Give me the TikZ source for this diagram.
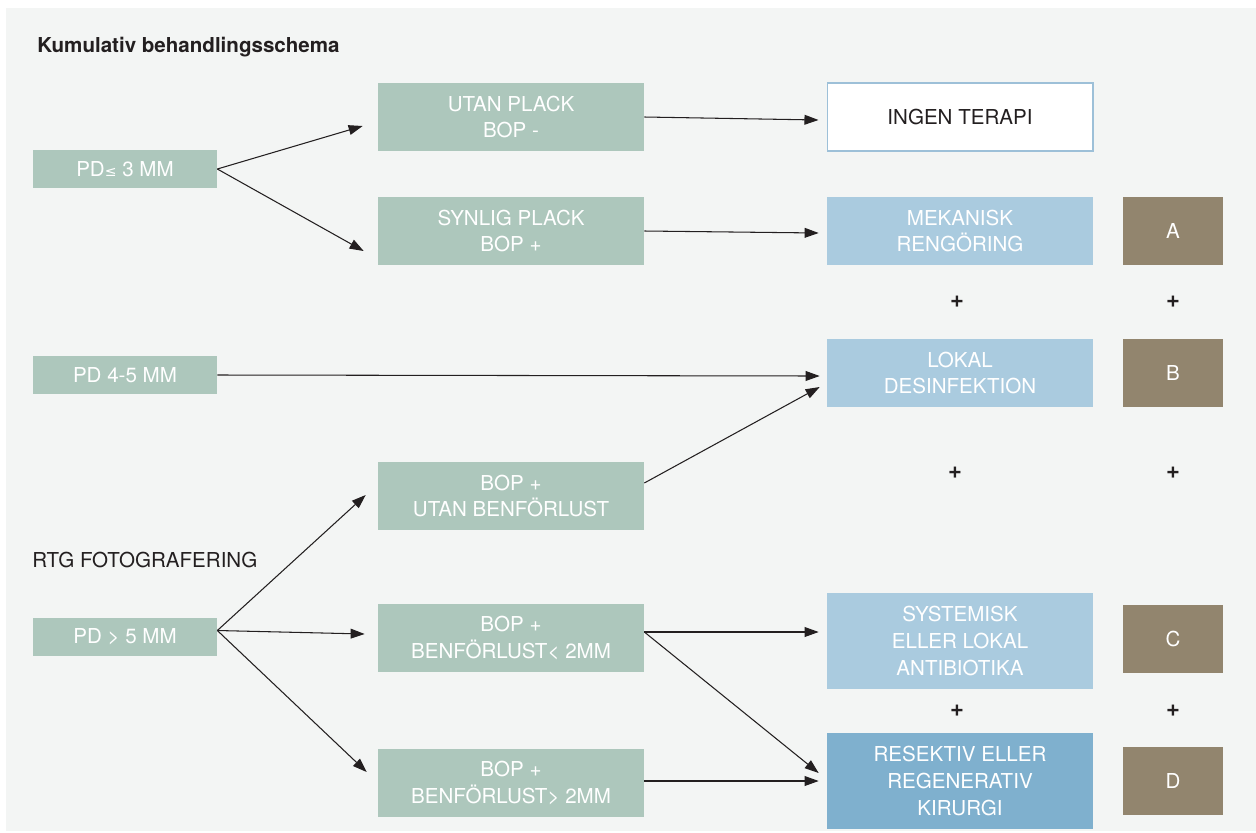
\documentclass[tikz,border=0pt]{standalone}
\usepackage{fontspec}
\setmainfont{TeX Gyre Heros}
\newfontfamily\symfam{DejaVu Sans}
\usepackage{xcolor}
\usepackage{tikz}
\usetikzlibrary{arrows.meta}
\definecolor{bggrey}{HTML}{F3F5F4}
\definecolor{sage}{HTML}{ADC7BC}
\definecolor{paleblue}{HTML}{AACBDF}
\definecolor{midblue}{HTML}{7FB0CE}
\definecolor{taupe}{HTML}{92856E}
\definecolor{rimblue}{HTML}{9DC0D8}
\definecolor{ink}{HTML}{231F20}
\tikzset{
  box/.style={fill=sage,text=white,align=center,inner sep=0pt,font=\fontsize{11.7}{15.2}\selectfont},
  pdbox/.style={box,minimum width=3.68cm,minimum height=0.76cm},
  midbox/.style={box,minimum width=5.32cm,minimum height=1.36cm},
  tbox/.style={midbox,fill=paleblue},
  letterbox/.style={box,fill=taupe,minimum width=2cm,minimum height=1.36cm},
  plussign/.style={text=ink,inner sep=0pt,font=\bfseries\fontsize{13.5}{15}\selectfont},
  arr/.style={->,draw=ink,line width=0.6pt}
}

\begin{document}
\begin{tikzpicture}[x=0.02cm,y=-0.02cm,>={Triangle[length=8pt,width=5.6pt]}]
\useasboundingbox(0,0)rectangle(1256,832);
\fill[bggrey](6,8)rectangle(1256,831);
% headings
\node[anchor=west,inner sep=0pt,text=ink,font=\bfseries\fontsize{11.7}{14}\selectfont](title)at(37,47){Kumulativ behandlingsschema};
\node[anchor=west,inner sep=0pt,text=ink,font=\fontsize{11.7}{14}\selectfont](rtg)at(32,560){RTG FOTOGRAFERING};
% pocket depth
\node[pdbox](pd1)at(125,169){PD{\symfam\fontsize{8}{10}\selectfont ≤} 3 MM};
\node[pdbox](pd2)at(125,375){PD 4-5 MM};
\node[pdbox](pd3)at(125,636.5){PD > 5 MM};
% findings
\node[midbox](utan)at(511,117){UTAN PLACK\\BOP -};
\node[midbox](synlig)at(511,231){SYNLIG PLACK\\BOP +};
\node[midbox](bopu)at(511,496){BOP +\\UTAN BENFÖRLUST};
\node[midbox](benf1)at(511,638){BOP +\\BENFÖRLUST< 2MM};
\node[midbox](benf2)at(511,783){BOP +\\BENFÖRLUST> 2MM};
% therapy
\node[midbox,fill=white,draw=rimblue,line width=0.6pt,text=ink](ingen)at(960,117){INGEN TERAPI};
\node[tbox](mek)at(960,231){MEKANISK\\RENGÖRING};
\node[tbox](lokal)at(960,373){LOKAL\\DESINFEKTION};
\node[tbox,minimum height=1.92cm](syst)at(960,641){SYSTEMISK\\ELLER LOKAL\\ANTIBIOTIKA};
\node[tbox,fill=midblue,minimum height=1.92cm](resek)at(960,781){RESEKTIV ELLER\\REGENERATIV\\KIRURGI};
% protocol steps
\node[letterbox](stepA)at(1173,231){A};
\node[letterbox](stepB)at(1173,373){B};
\node[letterbox](stepC)at(1173,638.5){C};
\node[letterbox](stepD)at(1173,780.5){D};
\foreach \px/\py [count=\i] in {957/302,1173/302,955/473,1173/473,957/711,1173/711}
  \node[plussign](plus\i)at(\px,\py){+};
% arrows
\draw[arr](pd1.east)--([shift={(-15,9)}]utan.west);
\draw[arr](pd1.east)--([shift={(-14,20)}]synlig.west);
\draw[arr](utan.east)--([shift={(-8,3)}]ingen.west);
\draw[arr](synlig.east)--([shift={(-8,2)}]mek.west);
\draw[arr](pd2.east)--([shift={(-7,3)}]lokal.west);
\draw[arr]([shift={(0,-13)}]bopu.east)--([shift={(-7,14)}]lokal.west);
\draw[arr]([shift={(0,-6)}]pd3.east)--([shift={(-12,-1)}]bopu.west);
\draw[arr]([shift={(0,-6)}]pd3.east)--([shift={(-13,-4)}]benf1.west);
\draw[arr]([shift={(0,-6)}]pd3.east)--([shift={(-11,-11)}]benf2.west);
\draw[arr]([shift={(0,-6)}]benf1.east)--([shift={(-8,-9)}]syst.west);
\draw[arr]([shift={(0,-6)}]benf1.east)--([shift={(-8,-8)}]resek.west);
\draw[arr]([shift={(0,-2)}]benf2.east)--([shift={(-8,0)}]resek.west);
\end{tikzpicture}
\end{document}
